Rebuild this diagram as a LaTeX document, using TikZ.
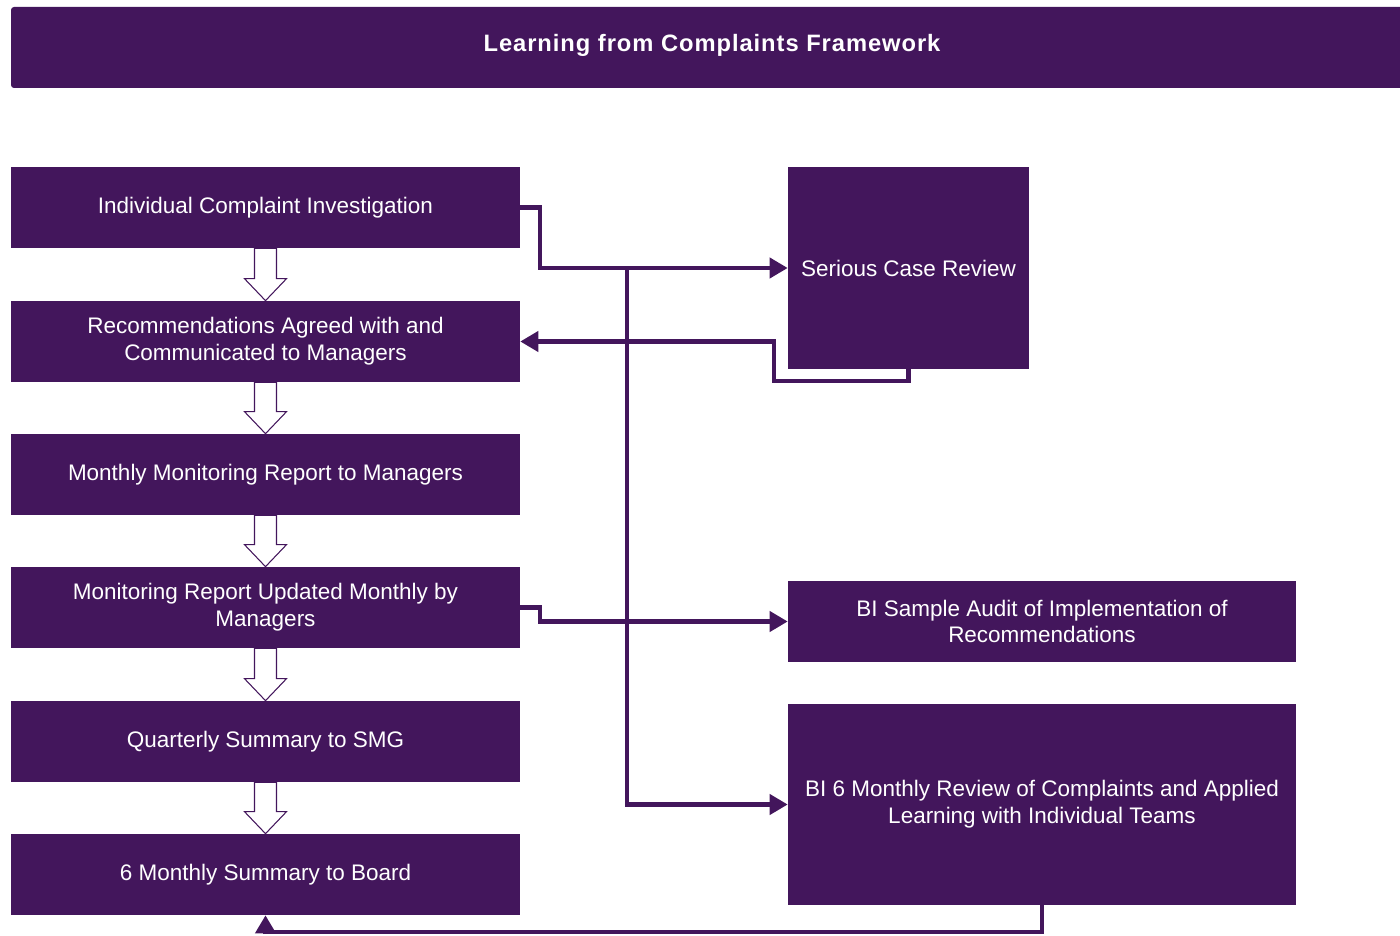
\documentclass[tikz,border=0pt]{standalone}
\usepackage{fontspec}
\setmainfont{Liberation Sans}
\usetikzlibrary{positioning,arrows.meta,calc}
\definecolor{lfcpurple}{RGB}{67,22,92}

\begin{document}
\begin{tikzpicture}[x=0.02cm, y=-0.02cm, line join=miter,
  box/.style={fill=lfcpurple, text=white, align=center, inner sep=0pt,
    font=\fontsize{12.8}{15.3}\selectfont},
  leftbox/.style={box, minimum width=10.18cm, minimum height=1.62cm},
  rightbox/.style={box, minimum width=10.16cm},
  link/.style={draw=lfcpurple, line width=2.3pt,
    -{Triangle[length=0.36cm,width=0.4cm]}},
  hollow/.style={draw=lfcpurple, fill=white, line width=0.6pt}]

\useasboundingbox (0,0) rectangle (1400,936);

% Title bar
\fill[lfcpurple, rounded corners=0.06cm] (11,7) rectangle (1430,88);
\node[text=white, font=\bfseries\fontsize{13.5}{16}\selectfont\addfontfeatures{LetterSpace=4}]
  (title) at (712,45) {Learning from Complaints Framework};

% Left column
\node[leftbox] (inv)   at (265.5,207.5) {Individual Complaint Investigation};
\node[leftbox] (rec)   at (265.5,341.5) {Recommendations Agreed with and\\Communicated to Managers};
\node[leftbox] (mon)   at (265.5,474.5) {Monthly Monitoring Report to Managers};
\node[leftbox] (upd)   at (265.5,607.5) {Monitoring Report Updated Monthly by\\Managers};
\node[leftbox] (smg)   at (265.5,741.5) {Quarterly Summary to SMG};
\node[leftbox] (board) at (265.5,874.5) {6 Monthly Summary to Board};

% Right column
\node[box, minimum width=4.82cm, minimum height=4.04cm] (scr) at (908.5,268) {Serious Case Review};
\node[rightbox, minimum height=1.62cm] (audit) at (1042,621.5)
  {BI Sample Audit of Implementation of\\Recommendations};
\node[rightbox, minimum height=4.02cm] (review) at (1042,804.5)
  {BI 6 Monthly Review of Complaints and Applied\\Learning with Individual Teams};

% Hollow arrows down the left column
\foreach \a/\b in {inv/rec, rec/mon, mon/upd, upd/smg, smg/board}
  \draw[hollow] ($(\a.south)+(-11,0)$) -- ($(\b.north)+(-11,-22)$)
    -- ($(\b.north)+(-21,-22)$) -- (\b.north) -- ($(\b.north)+(21,-22)$)
    -- ($(\b.north)+(11,-22)$) -- ($(\a.south)+(11,0)$) -- cycle;

% Connectors
\coordinate (split) at (627,268);
\draw[link] (inv.east) -- ++(20,0) |- (scr.west);
\draw[link] (split) |- (review.west);
\draw[link] (scr.south) -- ++(0,12) -| ($(rec.east)+(254,0)$) -- (rec.east);
\draw[link] (upd.east) -- ++(20,0) |- (audit.west);
\draw[link] (review.south) -- ++(0,27) -| (board.south);
\end{tikzpicture}
\end{document}
